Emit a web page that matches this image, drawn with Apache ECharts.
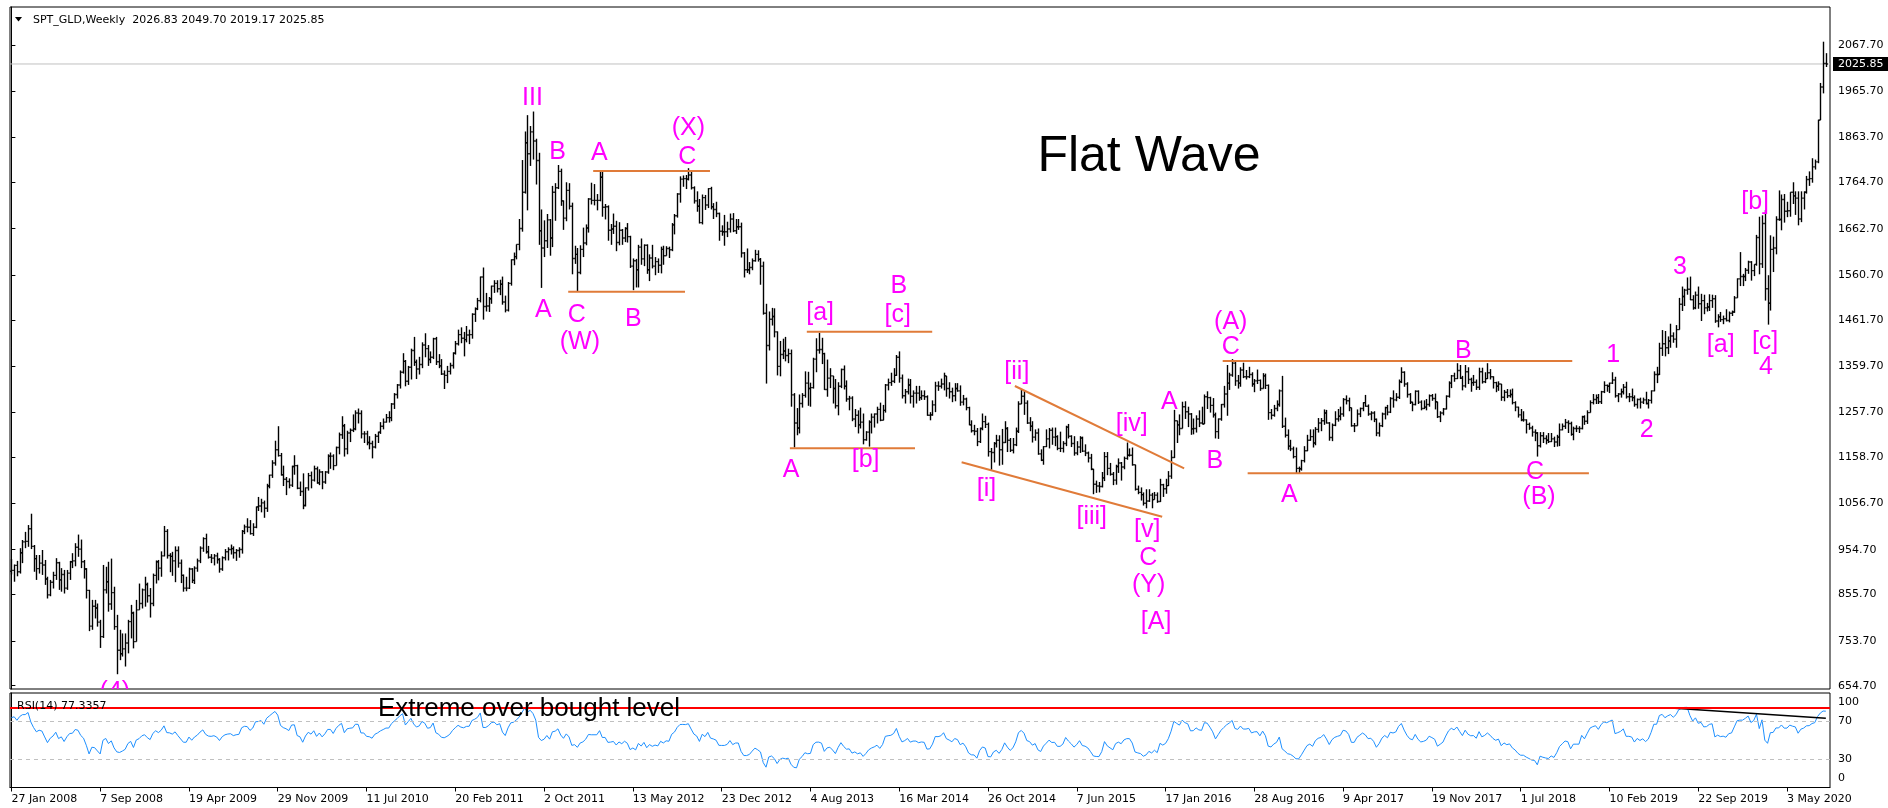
<!DOCTYPE html>
<html>
<head>
<meta charset="utf-8">
<title>SPT_GLD Weekly - Flat Wave</title>
<script src="https://cdn.jsdelivr.net/npm/echarts@6/dist/echarts.min.js"></script>
<style>
  html, body { margin: 0; padding: 0; background: #fff; }
  #chart { width: 1888px; height: 808px; }
</style>
</head>
<body>
<div id="chart"></div>
<script>
const SMALL = 'DejaVu Sans'
const BIG = 'Liberation Sans'
const MONTHS = ['Jan', 'Feb', 'Mar', 'Apr', 'May', 'Jun', 'Jul', 'Aug', 'Sep', 'Oct', 'Nov', 'Dec']
const startDate = Date.UTC(2008, 0, 27)
const symbolName = 'SPT_GLD,Weekly'

// weekly closes before the first visible bar (only used to seed the RSI)
const warmupCloses = [710, 733, 742, 738, 754, 765, 786, 806, 836, 787, 825, 783, 803, 797, 812, 838, 859, 897, 882, 907]

const highs = [
  // 2008
  934, 922, 930, 958, 976, 994, 1009, 1034, 965, 943, 943, 954, 932, 895, 888, 906, 936, 928, 914, 910, 910, 930, 947, 969, 988, 977, 932, 914, 866, 844, 844, 836, 800, 921, 917, 928, 935, 873, 811, 778, 770, 770, 800, 833, 818, 844, 880, 869, 895,
  // 2009
  882, 870, 902, 931, 932, 951, 1007, 1000, 947, 950, 962, 962, 933, 900, 895, 915, 914, 918, 935, 962, 982, 990, 963, 945, 945, 948, 936, 940, 956, 960, 966, 962, 956, 960, 998, 1010, 1024, 1020, 1013, 1050, 1071, 1067, 1063, 1100, 1120, 1152, 1195, 1227, 1168, 1140, 1115, 1112,
  // 2010
  1140, 1163, 1142, 1105, 1123, 1092, 1124, 1127, 1140, 1138, 1132, 1128, 1128, 1165, 1169, 1165, 1182, 1213, 1249, 1232, 1217, 1222, 1253, 1262, 1266, 1262, 1216, 1217, 1205, 1195, 1210, 1215, 1236, 1244, 1254, 1260, 1278, 1300, 1320, 1350, 1388, 1373, 1360, 1398, 1424, 1374, 1380, 1412, 1432, 1406, 1392, 1422,
  // 2011
  1424, 1386, 1375, 1350, 1360, 1367, 1390, 1415, 1440, 1445, 1435, 1448, 1440, 1476, 1489, 1510, 1557, 1577, 1521, 1512, 1537, 1549, 1549, 1550, 1557, 1515, 1545, 1595, 1610, 1628, 1684, 1814, 1877, 1913, 1889, 1921, 1861, 1830, 1705, 1681, 1695, 1684, 1757, 1763, 1803, 1795, 1725, 1765, 1763, 1720, 1625, 1620,
  // 2012
  1626, 1665, 1672, 1730, 1764, 1761, 1739, 1790, 1792, 1717, 1714, 1673, 1696, 1680, 1677, 1662, 1666, 1675, 1647, 1597, 1596, 1627, 1641, 1628, 1628, 1606, 1627, 1600, 1597, 1623, 1625, 1624, 1623, 1675, 1695, 1741, 1778, 1780, 1781, 1796, 1788, 1756, 1745, 1728, 1738, 1737, 1752, 1755, 1719, 1722, 1698, 1670, 1693,
  // 2013
  1678, 1696, 1697, 1684, 1684, 1676, 1611, 1619, 1589, 1597, 1616, 1615, 1598, 1590, 1497, 1480, 1488, 1487, 1436, 1415, 1420, 1424, 1398, 1396, 1300, 1267, 1297, 1300, 1348, 1347, 1323, 1378, 1421, 1433, 1422, 1389, 1374, 1355, 1338, 1331, 1324, 1354, 1361, 1328, 1294, 1293, 1265, 1262, 1268, 1255, 1216, 1240,
  // 2014
  1255, 1255, 1270, 1279, 1274, 1320, 1332, 1345, 1355, 1384, 1392, 1341, 1309, 1332, 1331, 1306, 1316, 1316, 1306, 1306, 1295, 1258, 1284, 1325, 1326, 1332, 1345, 1338, 1324, 1312, 1322, 1322, 1317, 1296, 1290, 1270, 1240, 1230, 1223, 1224, 1255, 1250, 1235, 1179, 1192, 1208, 1207, 1221, 1238, 1225, 1201, 1201,
  // 2015
  1224, 1282, 1307, 1305, 1284, 1247, 1238, 1220, 1222, 1176, 1183, 1220, 1223, 1224, 1224, 1207, 1215, 1194, 1228, 1232, 1207, 1205, 1194, 1205, 1204, 1187, 1171, 1166, 1133, 1107, 1104, 1126, 1170, 1170, 1146, 1126, 1142, 1156, 1148, 1160, 1191, 1178, 1180, 1142, 1096, 1092, 1081, 1088, 1088, 1080, 1082, 1081,
  // 2016
  1111, 1100, 1111, 1128, 1174, 1263, 1239, 1253, 1281, 1282, 1270, 1256, 1244, 1251, 1262, 1270, 1297, 1304, 1292, 1289, 1257, 1244, 1276, 1316, 1362, 1345, 1375, 1369, 1340, 1357, 1367, 1351, 1358, 1346, 1331, 1352, 1330, 1344, 1343, 1319, 1265, 1274, 1284, 1308, 1338, 1246, 1220, 1197, 1182, 1180, 1138, 1153,
  // 2017
  1183, 1208, 1220, 1220, 1225, 1245, 1245, 1264, 1263, 1236, 1233, 1260, 1265, 1270, 1289, 1295, 1290, 1267, 1234, 1264, 1268, 1280, 1296, 1275, 1260, 1260, 1244, 1235, 1257, 1270, 1274, 1291, 1306, 1300, 1330, 1357, 1348, 1324, 1300, 1281, 1306, 1306, 1284, 1284, 1287, 1297, 1298, 1299, 1281, 1260, 1267, 1295, 1326,
  // 2018
  1340, 1345, 1366, 1362, 1338, 1362, 1357, 1334, 1340, 1330, 1356, 1356, 1346, 1366, 1353, 1337, 1325, 1326, 1320, 1307, 1309, 1308, 1310, 1282, 1270, 1265, 1260, 1242, 1235, 1228, 1220, 1214, 1214, 1214, 1207, 1212, 1212, 1204, 1208, 1233, 1233, 1243, 1240, 1237, 1226, 1229, 1227, 1250, 1251, 1262, 1284, 1298,
  // 2019
  1297, 1298, 1305, 1326, 1319, 1323, 1346, 1336, 1300, 1310, 1320, 1325, 1300, 1310, 1295, 1288, 1290, 1290, 1303, 1287, 1306, 1348, 1358, 1411, 1439, 1437, 1425, 1453, 1434, 1450, 1510, 1535, 1530, 1555, 1557, 1516, 1524, 1535, 1519, 1517, 1499, 1518, 1517, 1516, 1474, 1479, 1471, 1485, 1480, 1482, 1514, 1553,
  // 2020
  1611, 1563, 1576, 1592, 1591, 1584, 1649, 1689, 1692, 1704, 1560, 1648, 1645, 1690, 1747, 1738, 1739, 1722, 1740, 1765, 1745, 1745, 1745, 1745, 1779, 1789, 1818, 1815, 1903, 1984, 2075, 2049.70
]

const lows = [
  // 2008
  900, 884, 896, 902, 925, 958, 961, 956, 906, 888, 902, 899, 877, 847, 852, 869, 888, 866, 862, 858, 866, 888, 914, 918, 939, 914, 891, 847, 775, 778, 803, 785, 738, 760, 858, 818, 822, 778, 680, 711, 719, 697, 726, 759, 737, 752, 822, 825, 829,
  // 2009
  838, 805, 830, 880, 887, 895, 940, 935, 905, 897, 883, 915, 881, 862, 863, 868, 881, 879, 906, 925, 950, 946, 935, 925, 920, 924, 904, 908, 931, 931, 944, 935, 930, 937, 946, 989, 993, 988, 985, 1002, 1040, 1037, 1025, 1038, 1090, 1113, 1140, 1160, 1118, 1095, 1075, 1090,
  // 2010
  1093, 1120, 1088, 1073, 1044, 1050, 1085, 1090, 1105, 1100, 1097, 1088, 1100, 1122, 1133, 1130, 1140, 1165, 1199, 1160, 1165, 1192, 1214, 1218, 1233, 1200, 1190, 1185, 1176, 1156, 1178, 1190, 1210, 1220, 1235, 1235, 1238, 1265, 1288, 1310, 1343, 1315, 1318, 1330, 1360, 1331, 1341, 1355, 1379, 1360, 1366, 1375,
  // 2011
  1362, 1355, 1340, 1309, 1322, 1341, 1354, 1385, 1405, 1410, 1381, 1412, 1408, 1420, 1457, 1483, 1500, 1462, 1480, 1479, 1497, 1521, 1522, 1516, 1495, 1478, 1480, 1537, 1582, 1595, 1615, 1656, 1740, 1703, 1801, 1815, 1760, 1627, 1532, 1600, 1620, 1603, 1622, 1680, 1750, 1713, 1660, 1679, 1705, 1562, 1585, 1523,
  // 2012
  1562, 1600, 1626, 1654, 1716, 1714, 1703, 1723, 1689, 1683, 1636, 1627, 1651, 1613, 1626, 1627, 1633, 1632, 1576, 1527, 1533, 1533, 1583, 1580, 1563, 1547, 1575, 1560, 1565, 1564, 1583, 1603, 1598, 1613, 1650, 1687, 1720, 1755, 1750, 1769, 1749, 1718, 1700, 1674, 1672, 1704, 1708, 1705, 1684, 1688, 1636, 1647, 1625,
  // 2013
  1644, 1654, 1655, 1651, 1660, 1599, 1555, 1565, 1562, 1571, 1590, 1590, 1539, 1473, 1321, 1394, 1449, 1423, 1339, 1337, 1375, 1370, 1366, 1270, 1180, 1207, 1211, 1268, 1290, 1272, 1270, 1310, 1346, 1387, 1364, 1307, 1292, 1311, 1277, 1266, 1251, 1311, 1308, 1281, 1262, 1238, 1225, 1211, 1222, 1187, 1195, 1182,
  // 2014
  1211, 1224, 1233, 1238, 1240, 1257, 1306, 1316, 1322, 1338, 1323, 1288, 1277, 1297, 1277, 1268, 1277, 1283, 1285, 1285, 1250, 1240, 1250, 1258, 1305, 1310, 1306, 1292, 1288, 1280, 1282, 1303, 1272, 1273, 1262, 1229, 1213, 1207, 1183, 1190, 1218, 1223, 1160, 1131, 1147, 1180, 1140, 1142, 1190, 1170, 1170, 1167,
  // 2015
  1183, 1212, 1276, 1252, 1232, 1216, 1191, 1195, 1164, 1150, 1142, 1181, 1178, 1186, 1183, 1174, 1170, 1169, 1183, 1200, 1181, 1162, 1163, 1168, 1170, 1161, 1147, 1130, 1077, 1080, 1081, 1092, 1106, 1119, 1118, 1097, 1098, 1124, 1107, 1132, 1153, 1160, 1140, 1085, 1077, 1063, 1052, 1046, 1060, 1046, 1066, 1058,
  // 2016
  1060, 1071, 1078, 1095, 1111, 1157, 1190, 1207, 1226, 1243, 1225, 1208, 1209, 1213, 1225, 1231, 1233, 1265, 1257, 1246, 1200, 1199, 1239, 1268, 1250, 1307, 1336, 1316, 1310, 1314, 1333, 1330, 1333, 1314, 1302, 1320, 1305, 1310, 1309, 1241, 1242, 1248, 1260, 1270, 1223, 1202, 1175, 1172, 1156, 1122, 1123, 1129,
  // 2017
  1147, 1172, 1195, 1180, 1185, 1213, 1216, 1230, 1233, 1195, 1194, 1227, 1237, 1240, 1248, 1275, 1260, 1226, 1214, 1228, 1247, 1260, 1270, 1250, 1240, 1236, 1205, 1204, 1225, 1242, 1251, 1256, 1268, 1282, 1287, 1322, 1314, 1290, 1276, 1260, 1273, 1276, 1262, 1265, 1262, 1270, 1283, 1264, 1245, 1236, 1251, 1264, 1290,
  // 2018
  1311, 1325, 1331, 1331, 1306, 1312, 1320, 1303, 1316, 1307, 1307, 1321, 1322, 1331, 1330, 1310, 1302, 1305, 1283, 1282, 1289, 1290, 1275, 1260, 1246, 1238, 1237, 1211, 1219, 1204, 1194, 1160, 1180, 1190, 1187, 1190, 1192, 1181, 1182, 1183, 1218, 1221, 1212, 1206, 1196, 1214, 1212, 1220, 1230, 1232, 1257, 1275,
  // 2019
  1276, 1276, 1276, 1300, 1303, 1300, 1320, 1290, 1280, 1290, 1297, 1288, 1280, 1282, 1270, 1266, 1266, 1276, 1275, 1266, 1277, 1304, 1322, 1340, 1382, 1381, 1386, 1400, 1411, 1400, 1440, 1481, 1492, 1517, 1505, 1484, 1485, 1486, 1459, 1474, 1480, 1481, 1488, 1455, 1445, 1457, 1452, 1458, 1456, 1470, 1477, 1510,
  // 2020
  1536, 1536, 1547, 1563, 1548, 1558, 1581, 1562, 1576, 1504, 1451, 1482, 1567, 1606, 1680, 1659, 1676, 1688, 1689, 1717, 1693, 1670, 1677, 1705, 1740, 1757, 1764, 1793, 1807, 1904, 1961, 2019.17
]

const closes = [
  // 2008
  909, 920, 906, 948, 972, 973, 1001, 962, 935, 913, 925, 921, 890, 855, 883, 898, 926, 888, 900, 870, 903, 928, 930, 960, 956, 928, 912, 865, 786, 830, 826, 795, 763, 866, 884, 835, 860, 785, 733, 725, 736, 749, 796, 815, 752, 822, 836, 866, 878,
  // 2009
  853, 836, 898, 928, 914, 941, 995, 942, 940, 930, 953, 925, 898, 870, 870, 912, 887, 914, 930, 958, 979, 950, 938, 936, 941, 933, 912, 937, 950, 955, 957, 948, 953, 955, 995, 1005, 1004, 990, 1004, 1049, 1051, 1058, 1046, 1095, 1119, 1146, 1175, 1162, 1120, 1110, 1105, 1097,
  // 2010
  1138, 1140, 1090, 1083, 1052, 1091, 1118, 1108, 1133, 1102, 1126, 1104, 1126, 1161, 1161, 1140, 1180, 1208, 1228, 1177, 1212, 1218, 1221, 1256, 1255, 1210, 1210, 1191, 1189, 1181, 1205, 1214, 1227, 1236, 1246, 1246, 1276, 1297, 1318, 1346, 1370, 1326, 1357, 1394, 1368, 1353, 1363, 1406, 1398, 1374, 1379, 1420,
  // 2011
  1369, 1360, 1342, 1339, 1348, 1361, 1388, 1409, 1429, 1421, 1418, 1428, 1429, 1474, 1486, 1504, 1556, 1491, 1492, 1508, 1536, 1542, 1530, 1540, 1501, 1483, 1542, 1594, 1601, 1628, 1663, 1743, 1852, 1828, 1876, 1856, 1813, 1658, 1620, 1636, 1682, 1642, 1743, 1753, 1789, 1724, 1686, 1747, 1712, 1597, 1606, 1566,
  // 2012
  1617, 1631, 1664, 1728, 1725, 1725, 1725, 1776, 1710, 1711, 1659, 1662, 1668, 1632, 1659, 1642, 1663, 1645, 1580, 1592, 1572, 1622, 1596, 1626, 1572, 1598, 1580, 1590, 1582, 1617, 1603, 1619, 1616, 1671, 1691, 1739, 1772, 1773, 1772, 1781, 1753, 1724, 1712, 1676, 1731, 1715, 1751, 1711, 1705, 1696, 1657, 1656, 1656,
  // 2013
  1662, 1684, 1658, 1667, 1667, 1609, 1572, 1572, 1577, 1592, 1606, 1595, 1580, 1476, 1405, 1463, 1469, 1435, 1359, 1385, 1393, 1383, 1387, 1296, 1234, 1223, 1277, 1295, 1322, 1310, 1312, 1375, 1395, 1396, 1387, 1308, 1333, 1338, 1310, 1272, 1315, 1352, 1315, 1287, 1289, 1243, 1251, 1230, 1236, 1197, 1214, 1236,
  // 2014
  1247, 1254, 1264, 1240, 1262, 1318, 1323, 1326, 1339, 1379, 1333, 1294, 1303, 1318, 1293, 1300, 1300, 1290, 1294, 1292, 1251, 1252, 1274, 1316, 1315, 1320, 1338, 1310, 1303, 1294, 1310, 1305, 1280, 1287, 1268, 1230, 1217, 1216, 1193, 1222, 1237, 1231, 1171, 1169, 1189, 1196, 1175, 1191, 1222, 1196, 1174, 1186,
  // 2015
  1216, 1276, 1293, 1278, 1234, 1227, 1203, 1212, 1166, 1152, 1182, 1199, 1218, 1203, 1204, 1178, 1178, 1189, 1225, 1205, 1189, 1168, 1181, 1201, 1172, 1168, 1157, 1132, 1099, 1095, 1094, 1113, 1160, 1134, 1121, 1108, 1138, 1146, 1137, 1156, 1163, 1163, 1142, 1088, 1081, 1076, 1057, 1062, 1075, 1065, 1075, 1061,
  // 2016
  1098, 1089, 1096, 1117, 1158, 1239, 1230, 1222, 1270, 1259, 1254, 1221, 1222, 1243, 1234, 1232, 1292, 1290, 1273, 1252, 1215, 1243, 1275, 1298, 1322, 1340, 1366, 1327, 1322, 1351, 1336, 1336, 1341, 1320, 1327, 1328, 1310, 1338, 1317, 1257, 1251, 1266, 1275, 1305, 1227, 1207, 1183, 1177, 1160, 1134, 1133, 1151,
  // 2017
  1173, 1196, 1204, 1190, 1220, 1234, 1239, 1256, 1234, 1202, 1229, 1243, 1249, 1254, 1286, 1283, 1268, 1228, 1228, 1254, 1266, 1279, 1271, 1254, 1256, 1242, 1212, 1228, 1254, 1268, 1258, 1288, 1285, 1291, 1325, 1346, 1320, 1297, 1280, 1275, 1304, 1280, 1266, 1269, 1275, 1294, 1288, 1281, 1248, 1256, 1265, 1293, 1322,
  // 2018
  1338, 1332, 1350, 1333, 1316, 1347, 1330, 1323, 1324, 1313, 1347, 1325, 1332, 1345, 1336, 1323, 1315, 1320, 1291, 1302, 1294, 1297, 1279, 1269, 1252, 1241, 1241, 1231, 1223, 1214, 1212, 1184, 1206, 1200, 1196, 1193, 1199, 1192, 1203, 1219, 1227, 1235, 1233, 1209, 1222, 1222, 1222, 1248, 1238, 1257, 1279, 1286,
  // 2019
  1290, 1281, 1303, 1317, 1315, 1322, 1329, 1294, 1298, 1303, 1313, 1292, 1292, 1290, 1275, 1286, 1280, 1285, 1277, 1284, 1305, 1341, 1341, 1399, 1409, 1400, 1415, 1426, 1419, 1440, 1496, 1513, 1527, 1529, 1506, 1488, 1516, 1497, 1504, 1488, 1490, 1504, 1508, 1459, 1468, 1462, 1464, 1460, 1476, 1479, 1510, 1552,
  // 2020
  1557, 1557, 1571, 1589, 1570, 1584, 1643, 1585, 1674, 1530, 1498, 1617, 1620, 1683, 1683, 1727, 1701, 1702, 1743, 1735, 1730, 1684, 1730, 1743, 1771, 1773, 1799, 1810, 1902, 1975, 2026.83, 2025.85
]

const priceTicks = [654.7, 753.7, 855.7, 954.7, 1056.7, 1158.7, 1257.7, 1359.7, 1461.7, 1560.7, 1662.7, 1764.7, 1863.7, 1965.7, 2067.7]
const priceMin = 647.42
const priceMax = 2151.51
const dateTickStep = 32

const rsiPeriod = 14
const rsiTicks = [0, 30, 70, 100]
const rsiLevels = [70, 30]
const rsiExtreme = 84.5
const rsiTrend = [[598.2, 84.1], [654, 73.2]]
const rsiLabel = 'RSI(14) 77.3357'

// elliott wave labels: [bar index, price, text]
const waveLabels = [
  [187.8, 1950.2, 'III'], [196.9, 1832.4, 'B'], [211.9, 1830.2, 'A'], [244.0, 1884.0, '(X)'], [243.6, 1821.4, 'C'],
  [191.7, 1483.3, 'A'], [203.8, 1472.2, 'C'], [204.9, 1413.4, '(W)'], [224.2, 1462.8, 'B'],
  [291.5, 1476.0, '[a]'], [319.9, 1536.9, 'B'], [319.5, 1472.2, '[c]'], [281.0, 1130.4, 'A'], [307.9, 1152.5, '[b]'],
  [362.4, 1347.2, '[ii]'], [351.5, 1088.5, '[i]'], [389.4, 1027.4, '[iii]'], [403.8, 1231.8, '[iv]'], [409.4, 998.1, '[v]'],
  [409.8, 935.6, 'C'], [409.9, 876.8, '(Y)'], [412.6, 794.5, '[A]'],
  [417.4, 1281.0, 'A'], [433.8, 1150.9, 'B'], [439.5, 1457.5, '(A)'], [439.5, 1402.3, 'C'], [460.6, 1075.3, 'A'],
  [523.3, 1393.5, 'B'], [549.2, 1125.2, 'C'], [550.6, 1070.9, '(B)'],
  [577.4, 1384.0, '1'], [589.4, 1218.6, '2'], [601.4, 1578.8, '3'], [616.1, 1406.1, '[a]'], [628.5, 1722.1, '[b]'],
  [632.1, 1413.4, '[c]'], [632.4, 1358.2, '4'], [37.3, 640.8, '(4)']
]

// hand drawn trend lines: [bar index, price, bar index, price]
const trendLines = [
  [209.7, 1789.8, 251.8, 1789.8],
  [200.7, 1523.6, 242.8, 1523.6],
  [286.7, 1435.4, 331.9, 1435.4],
  [280.6, 1178.3, 325.7, 1178.3],
  [361.7, 1315.7, 422.7, 1134.1],
  [342.5, 1147.4, 414.8, 1027.4],
  [436.6, 1370.8, 562.6, 1370.8],
  [445.6, 1123.1, 568.6, 1123.1]
]

function weekLabel (i) {
  const d = new Date(startDate + i * 7 * 86400000)
  return d.getUTCDate() + ' ' + MONTHS[d.getUTCMonth()] + ' ' + d.getUTCFullYear()
}

// Wilder RSI on the close series
function calcRsi (values, period) {
  const out = []
  let gain = 0
  let loss = 0
  for (let k = 1; k < values.length; k++) {
    const d = values[k] - values[k - 1]
    const g = d > 0 ? d : 0
    const l = d < 0 ? -d : 0
    if (k <= period) {
      gain += g
      loss += l
      if (k < period) continue
      gain /= period
      loss /= period
    } else {
      gain = (gain * (period - 1) + g) / period
      loss = (loss * (period - 1) + l) / period
    }
    out[k] = loss === 0 ? 100 : 100 - 100 / (1 + gain / loss)
  }
  return out
}

const barCount = closes.length
const opens = closes.map((c, i) => i === 0 ? warmupCloses[warmupCloses.length - 1] : closes[i - 1])
const ohlc = closes.map((c, i) => [i, opens[i], highs[i], lows[i], c])
const rsiAll = calcRsi(warmupCloses.concat(closes), rsiPeriod)
const rsiData = closes.map((c, i) => [i, rsiAll[warmupCloses.length + i]])
const lastBar = barCount - 1
const lastClose = closes[lastBar]
const header = symbolName + '  ' + [opens[lastBar], highs[lastBar], lows[lastBar], closes[lastBar]].map(v => v.toFixed(2)).join(' ')

const dateTicks = []
for (let i = 0; i < barCount; i += dateTickStep) dateTicks.push(i)

const xMin = -0.5
const xMax = barCount + 0.5

function renderBar (params, api) {
  const i = api.value(0)
  const x = Math.round(api.coord([i, 1000])[0]) + 0.5
  const yO = api.coord([i, api.value(1)])[1]
  const yH = api.coord([i, api.value(2)])[1]
  const yL = api.coord([i, api.value(3)])[1]
  const yC = api.coord([i, api.value(4)])[1]
  const style = { stroke: '#000', lineWidth: 1.4 }
  return {
    type: 'group',
    children: [
      { type: 'line', shape: { x1: x, y1: Math.min(yH, yO, yC), x2: x, y2: Math.max(yL, yO, yC) }, style },
      { type: 'line', shape: { x1: x - 1.3, y1: yO, x2: x, y2: yO }, style },
      { type: 'line', shape: { x1: x, y1: yC, x2: x + 1.3, y2: yC }, style }
    ]
  }
}

function renderTrend (params, api) {
  const a = api.coord([api.value(0), api.value(1)])
  const b = api.coord([api.value(2), api.value(3)])
  return {
    type: 'line',
    shape: { x1: a[0], y1: a[1], x2: b[0], y2: b[1] },
    style: { stroke: '#E07B39', lineWidth: 2 }
  }
}

function renderWave (params, api) {
  const p = api.coord([api.value(0), api.value(1)])
  return {
    type: 'text',
    x: p[0],
    y: p[1],
    style: {
      text: waveLabels[params.dataIndex][2],
      fill: '#FF00FF',
      font: '25px "' + BIG + '"',
      align: 'center',
      verticalAlign: 'middle',
      textAlign: 'center',
      textVerticalAlign: 'middle'
    }
  }
}

const smallText = { fontFamily: SMALL, fontSize: 11, color: '#000' }

const chart = echarts.init(document.getElementById('chart'), null, { renderer: 'canvas' })
chart.setOption({
  animation: false,
  backgroundColor: '#fff',
  grid: [
    { left: 10, top: 7, width: 1820, height: 682, show: true, borderColor: '#000', borderWidth: 1, backgroundColor: '#fff', outerBoundsMode: 'none' },
    { left: 10, top: 693, width: 1820, height: 94.5, show: true, borderColor: '#000', borderWidth: 1, backgroundColor: '#fff', outerBoundsMode: 'none' }
  ],
  xAxis: [
    { gridIndex: 0, type: 'value', min: xMin, max: xMax, show: false },
    {
      gridIndex: 1,
      type: 'value',
      min: xMin,
      max: xMax,
      axisLine: { show: true, onZero: false, lineStyle: { color: '#000', width: 1 } },
      axisTick: { show: true, customValues: dateTicks, length: 4, lineStyle: { color: '#000' } },
      axisLabel: Object.assign({ customValues: dateTicks, formatter: v => weekLabel(Math.round(v)), align: 'left', margin: 6 }, smallText),
      splitLine: { show: false }
    }
  ],
  yAxis: [
    {
      gridIndex: 0,
      type: 'value',
      position: 'right',
      min: priceMin,
      max: priceMax,
      axisLine: { show: true, lineStyle: { color: '#000', width: 1 } },
      axisTick: { show: true, customValues: priceTicks, length: 4, lineStyle: { color: '#000' } },
      axisLabel: Object.assign({ customValues: priceTicks, formatter: v => v.toFixed(2), margin: 8 }, smallText),
      splitLine: { show: false }
    },
    {
      gridIndex: 1,
      type: 'value',
      position: 'right',
      min: 0,
      max: 100,
      axisLine: { show: true, lineStyle: { color: '#000', width: 1 } },
      axisTick: { show: false },
      axisLabel: Object.assign({
        customValues: rsiTicks,
        margin: 8,
        formatter: v => v === 100 ? '{top|100}' : (v === 0 ? '{bot|0}' : String(v)),
        rich: {
          top: { padding: [19, 0, 0, 0], fontFamily: SMALL, fontSize: 11, color: '#000' },
          bot: { padding: [0, 0, 19, 0], fontFamily: SMALL, fontSize: 11, color: '#000' }
        }
      }, smallText),
      splitLine: { show: false }
    }
  ],
  series: [
    {
      type: 'line',
      xAxisIndex: 0,
      yAxisIndex: 0,
      data: [[xMin, lastClose], [xMax, lastClose]],
      symbol: 'none',
      silent: true,
      z: 1,
      lineStyle: { color: '#C0C0C0', width: 1 },
      endLabel: {
        show: true,
        formatter: lastClose.toFixed(2),
        backgroundColor: '#000',
        color: '#fff',
        fontFamily: SMALL,
        fontSize: 11,
        padding: [2, 5, 1, 5],
        distance: 3
      }
    },
    {
      type: 'custom',
      xAxisIndex: 0,
      yAxisIndex: 0,
      dimensions: ['i', 'open', 'high', 'low', 'close'],
      encode: { x: 0, y: [1, 2, 3, 4] },
      data: ohlc,
      renderItem: renderBar,
      silent: true,
      z: 3
    },
    {
      type: 'custom',
      xAxisIndex: 0,
      yAxisIndex: 0,
      encode: { x: [0, 2], y: [1, 3] },
      data: trendLines,
      renderItem: renderTrend,
      clip: true,
      silent: true,
      z: 4
    },
    {
      type: 'custom',
      xAxisIndex: 0,
      yAxisIndex: 0,
      encode: { x: 0, y: 1 },
      data: waveLabels.map(d => [d[0], d[1]]),
      renderItem: renderWave,
      clip: true,
      silent: true,
      z: 5
    },
    {
      type: 'line',
      xAxisIndex: 1,
      yAxisIndex: 1,
      data: rsiData,
      symbol: 'none',
      silent: true,
      z: 3,
      lineStyle: { color: '#1E90FF', width: 1 },
      markLine: {
        symbol: 'none',
        silent: true,
        label: { show: false },
        data: [
          { yAxis: rsiLevels[0], lineStyle: { color: '#C0C0C0', width: 1, type: [4, 4] } },
          { yAxis: rsiLevels[1], lineStyle: { color: '#C0C0C0', width: 1, type: [4, 4] } },
          { yAxis: rsiExtreme, lineStyle: { color: '#FF0000', width: 2, type: 'solid' } }
        ]
      }
    },
    {
      type: 'line',
      xAxisIndex: 1,
      yAxisIndex: 1,
      data: rsiTrend,
      symbol: 'none',
      silent: true,
      z: 4,
      lineStyle: { color: '#000', width: 1.5 }
    }
  ],
  graphic: [
    { type: 'polygon', shape: { points: [[15, 17], [22, 17], [18.5, 21.5]] }, style: { fill: '#000' }, z: 10 },
    { type: 'text', x: 33, y: 20, style: { text: header, font: '11px "' + SMALL + '"', fill: '#000', align: 'left', verticalAlign: 'middle', textAlign: 'left', textVerticalAlign: 'middle' }, z: 10 },
    { type: 'text', x: 17, y: 706.5, style: { text: rsiLabel, font: '11px "' + SMALL + '"', fill: '#000', align: 'left', verticalAlign: 'middle', textAlign: 'left', textVerticalAlign: 'middle' }, z: 10 },
    { type: 'text', x: 1149, y: 157, style: { text: 'Flat Wave', font: '50px "' + BIG + '"', fill: '#000', align: 'center', verticalAlign: 'middle', textAlign: 'center', textVerticalAlign: 'middle' }, z: 10 },
    { type: 'text', x: 378, y: 709, style: { text: 'Extreme over bought level', font: '26px "' + BIG + '"', fill: '#000', align: 'left', verticalAlign: 'middle', textAlign: 'left', textVerticalAlign: 'middle' }, z: 10 }
  ]
})
</script>
</body>
</html>
